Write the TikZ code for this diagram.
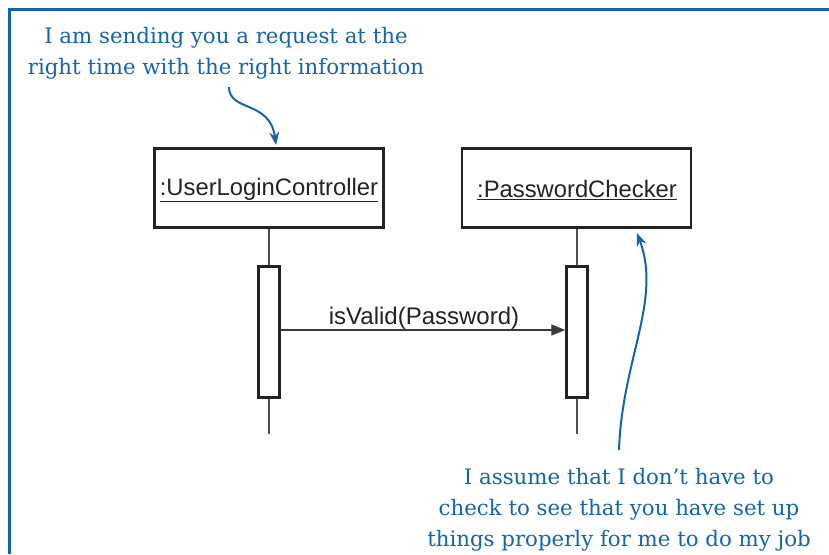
\documentclass[tikz,border=0pt]{standalone}
\usepackage{fontspec}
\setmainfont{DejaVu Serif}
\newfontfamily\umlfont{Liberation Sans}
\usetikzlibrary{arrows.meta}
\definecolor{noteblue}{RGB}{22,100,170}
\definecolor{umlgray}{RGB}{35,35,35}
\tikzset{
  objbox/.style={draw=umlgray, line width=2.6pt, minimum width=229pt, minimum height=79pt, inner sep=0pt},
  objtext/.style={font=\umlfont\fontsize{23.8}{28}\selectfont, text=umlgray, inner sep=0pt},
  actbox/.style={draw=umlgray, line width=2.4pt, fill=white, minimum width=21pt, minimum height=131pt, inner sep=0pt},
  lifeline/.style={draw=umlgray!80, line width=1.2pt},
  msg/.style={draw=umlgray!90, line width=1.3pt, -{Triangle[length=14pt,width=11pt]}},
  note/.style={font=\fontsize{21.3}{31}\selectfont, text=noteblue, align=center, inner sep=0pt},
  notearrow/.style={draw=noteblue, line width=2pt, -{Stealth[length=13pt,width=10pt]}},
}
\begin{document}
\begin{tikzpicture}[x=1pt,y=-1pt]
\useasboundingbox (0,0) rectangle (829,554);
\fill[white] (0,0) rectangle (829,554);
% frame
\draw[noteblue, line width=3.5pt] (829,9.5) -- (9.5,9.5) -- (9.5,554);
% objects
\node[objbox] (ulc) at (269,188) {};
\node[objbox] (pc) at (576.5,188) {};
\node[objtext] (ulct) at (269,190) {\underline{:UserLoginController}};
\node[objtext] (pct) at (577,190) {\underline{:PasswordChecker}};
% lifelines
\coordinate (e1) at (269,434);
\coordinate (e2) at (577,434);
\draw[lifeline] (ulc.south -| e1) -- (e1);
\draw[lifeline] (pc.south -| e2) -- (e2);
\node[actbox] (a1) at (269,332) {};
\node[actbox] (a2) at (577,332) {};
% message
\coordinate (m1) at (a1.east |- 0,330);
\coordinate (m2) at (a2.west |- 0,330);
\draw[msg] (m1) -- (m2);
\node[anchor=base, inner sep=0pt, font=\umlfont\fontsize{24}{28}\selectfont, text=umlgray] (lbl) at (424,324) {isValid(Password)};
% notes
\node[note] (n1) at (226,53) {I am sending you a request at the\\right time with the right information};
\node[note] (n2) at (619,510) {I assume that I don't have to\\check to see that you have set up\\things properly for me to do my job};
\coordinate (s1) at (229,87);
\draw[notearrow] (s1) .. controls (229,112) and (270,100) .. (276,145);
\coordinate (s2) at (619,450);
\draw[notearrow] (s2) .. controls (622,360) and (662,300) .. (637,233);
\end{tikzpicture}
\end{document}
